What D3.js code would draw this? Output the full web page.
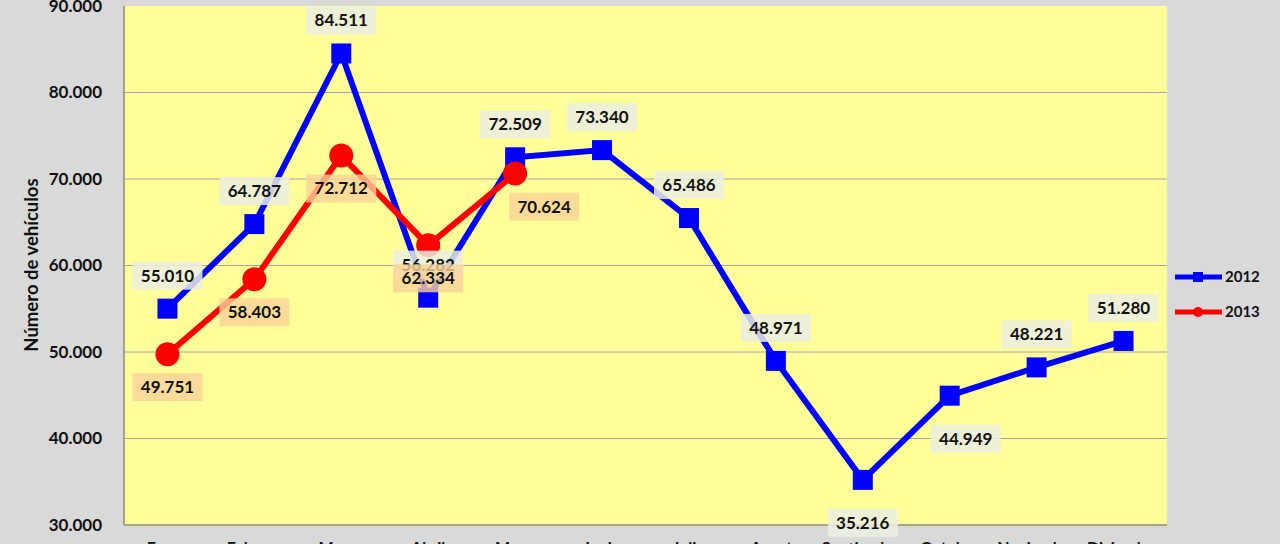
<!DOCTYPE html>
<html><head><meta charset="utf-8">
<script src="https://cdn.jsdelivr.net/npm/d3@7"></script>
<style>html,body{margin:0;padding:0;background:#d9d9d9;overflow:hidden}</style>
</head><body>
<svg id="c" width="1280" height="544"></svg>
<script>
const months = ["Enero","Febrero","Marzo","Abril","Mayo","Junio","Julio","Agosto","Septiembre","Octubre","Noviembre","Diciembre"];
const values2012 = [55010,64787,84511,56282,72509,73340,65486,48971,35216,44949,48221,51280];
const values2013 = [49751,58403,72712,62334,70624];
const yTicks = [30000,40000,50000,60000,70000,80000,90000];
// label placement: "a" above, "b" below
const pos2012 = ["a","a","a","a","a","a","a","a","b","b","a","a"];
const pos2013 = ["b","b","b","b","b"];
const dx2012 = [0,0,0,0,0,0,0,0,0,16,0,0];
const dx2013 = [0,0,0,0,29];

const svg = d3.select("#c");
const L=124, R=1167, T=6, B=525;
const x = d3.scaleBand().domain(months).range([L,R]);
const y = d3.scaleLinear().domain([30000,90000]).range([B,T]);
const num = v => (v/1000).toFixed(3);

svg.append("rect").attr("x",L).attr("y",T).attr("width",R-L).attr("height",B-T).attr("fill","#ffff99");
svg.append("g").selectAll("line").data(yTicks.slice(1,-1)).join("line")
  .attr("x1",L).attr("x2",R).attr("y1",d=>y(d)).attr("y2",d=>y(d)).attr("stroke","#a6a6a6").attr("stroke-width",1);
svg.append("line").attr("x1",L).attr("x2",R).attr("y1",B).attr("y2",B).attr("stroke","#8c8c7a").attr("stroke-width",1.5);
svg.append("line").attr("x1",L).attr("x2",L).attr("y1",T).attr("y2",B).attr("stroke","#8c8c7a").attr("stroke-width",1.5);

const yAxis = d3.axisLeft(y).tickValues(yTicks).tickFormat(num).tickSize(0).tickPadding(22);
const ga = svg.append("g").attr("transform",`translate(${L},0)`).call(yAxis);
ga.select(".domain").remove();
ga.selectAll("text").attr("font-family","Lato, 'Open Sans', sans-serif").attr("font-weight","bold").attr("font-size",17).attr("fill","#111");

const xAxis = d3.axisBottom(x).tickSize(0).tickPadding(17);
const gx = svg.append("g").attr("transform",`translate(0,${B})`).call(xAxis);
gx.select(".domain").remove();
gx.selectAll("text").attr("font-family","Lato, sans-serif").attr("font-weight","bold").attr("font-size",16).attr("fill","#111");

svg.append("text").attr("transform","translate(32,265) rotate(-90)").attr("text-anchor","middle").attr("dy","0.35em")
  .attr("font-family","Lato, sans-serif").attr("font-weight","bold").attr("font-size",18.5).attr("fill","#111")
  .text("Número de vehículos");

const cx = i => x(months[i]) + x.bandwidth()/2;
const line = d3.line().x((d,i)=>cx(i)).y(d=>y(d));

svg.append("path").datum(values2012).attr("d",line).attr("fill","none").attr("stroke","#0000ff").attr("stroke-width",6).attr("stroke-linejoin","miter");
svg.append("g").selectAll("rect").data(values2012).join("rect")
  .attr("x",(d,i)=>cx(i)-10).attr("y",d=>y(d)-10).attr("width",20).attr("height",20).attr("fill","#0000ff");

svg.append("path").datum(values2013).attr("d",line).attr("fill","none").attr("stroke","#ff0000").attr("stroke-width",6).attr("stroke-linejoin","round");
svg.append("g").selectAll("circle").data(values2013).join("circle")
  .attr("cx",(d,i)=>cx(i)).attr("cy",d=>y(d)).attr("r",12).attr("fill","#ff0000");

function labels(vals, posArr, dxArr, bg, offA, offB){
  const g = svg.append("g");
  vals.forEach((v,i)=>{
    const lx = cx(i)+dxArr[i];
    const ly = posArr[i]==="a" ? y(v)-offA : y(v)+offB;
    g.append("rect").attr("x",lx-35).attr("y",ly-14).attr("width",70).attr("height",28).attr("fill",bg);
    g.append("text").attr("x",lx).attr("y",ly).attr("dy","0.35em").attr("text-anchor","middle")
      .attr("font-family","Lato, sans-serif").attr("font-weight","bold").attr("font-size",17).attr("fill","#111").text(num(v));
  });
}
labels(values2012,pos2012,dx2012,"rgba(235,238,225,0.85)",33,43);
labels(values2013,pos2013,dx2013,"rgba(250,210,150,0.8)",0,33);

// legend
const lg = svg.append("g");
[["2012","#0000ff","sq",277],["2013","#ff0000","ci",312]].forEach(([t,c,m,ly])=>{
  lg.append("line").attr("x1",1175).attr("x2",1222).attr("y1",ly).attr("y2",ly).attr("stroke",c).attr("stroke-width",5);
  if(m==="sq") lg.append("rect").attr("x",1193).attr("y",ly-5).attr("width",10).attr("height",10).attr("fill",c);
  else lg.append("circle").attr("cx",1198).attr("cy",ly).attr("r",5).attr("fill",c);
  lg.append("text").attr("x",1225).attr("y",ly).attr("dy","0.35em").attr("font-family","Lato, sans-serif")
    .attr("font-weight","bold").attr("font-size",15).attr("fill","#111").text(t);
});
</script>
</body></html>
